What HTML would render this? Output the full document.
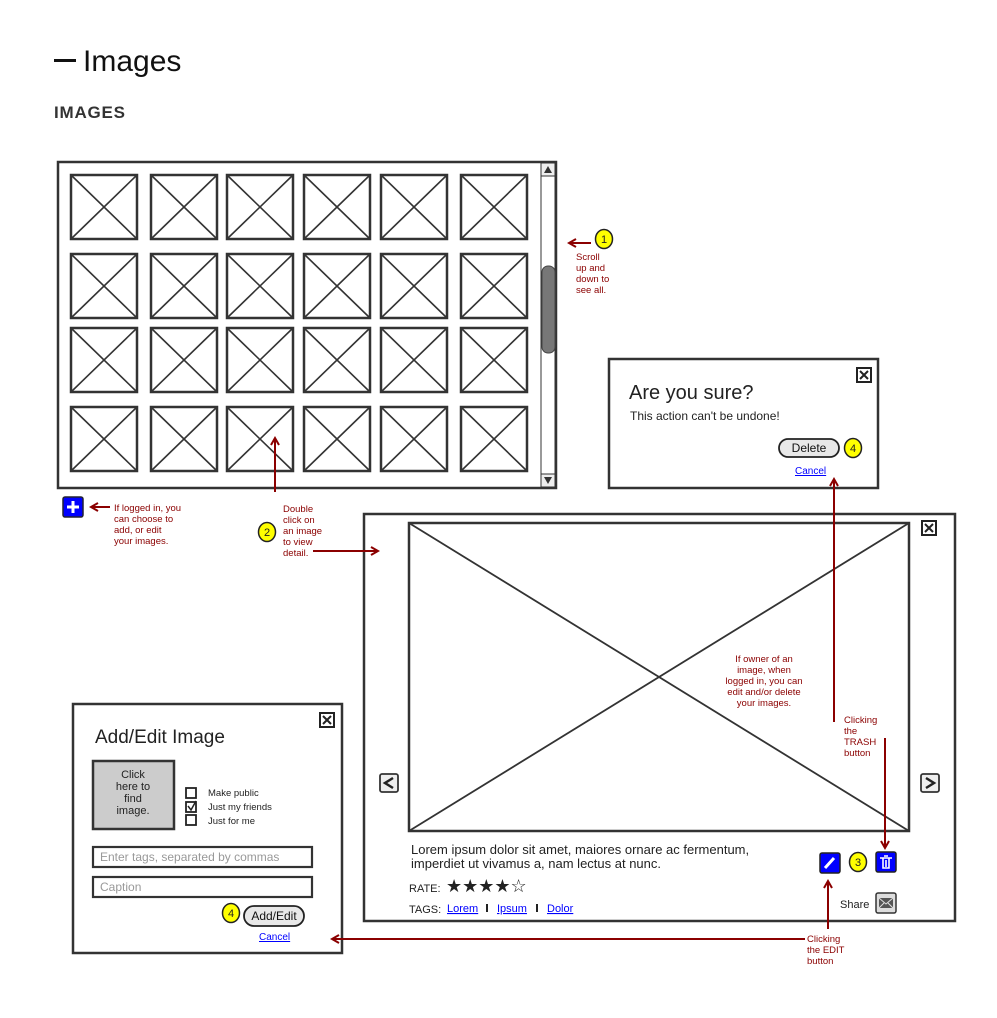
<!DOCTYPE html>
<html><head><meta charset="utf-8"><style>
body{margin:0;background:#fff;}
svg{display:block;font-family:"Liberation Sans",Arial,sans-serif;}
.r{fill:#8b0000;font-size:9.5px;}
</style></head><body>
<svg width="997" height="1018" viewBox="0 0 997 1018" xmlns="http://www.w3.org/2000/svg">
<defs>
<marker id="ah" markerWidth="10" markerHeight="10" refX="8" refY="5" orient="auto" markerUnits="userSpaceOnUse">
<path d="M1,1 L8,5 L1,9" fill="none" stroke="#8b0000" stroke-width="2"/>
</marker>
<g id="ph"><rect x="0" y="0" width="66" height="64" fill="#fff" stroke="#333" stroke-width="2.5"/><path d="M0,0 L66,64 M66,0 L0,64" stroke="#333" stroke-width="1.6"/></g>
</defs>
<rect x="54" y="59" width="22" height="3" fill="#111"/>
<text x="83" y="71" font-size="30" fill="#111">Images</text>
<text x="54" y="118" font-size="17" font-weight="bold" fill="#333" textLength="71">IMAGES</text>

<!-- grid -->
<rect x="58" y="162" width="498" height="326" fill="#fff" stroke="#333" stroke-width="2.5"/>
<rect x="541" y="163" width="14" height="324" fill="#fff" stroke="#333" stroke-width="1"/>
<rect x="541" y="163" width="14" height="13" fill="#eee" stroke="#333"/>
<path d="M548,166 L552,173 L544,173Z" fill="#333"/>
<rect x="541" y="474" width="14" height="13" fill="#eee" stroke="#333"/>
<path d="M544,477 L552,477 L548,484Z" fill="#333"/>
<rect x="542" y="266" width="13" height="87" rx="6" fill="#777" stroke="#444"/>
<g>
<use href="#ph" x="71" y="175"/><use href="#ph" x="151" y="175"/><use href="#ph" x="227" y="175"/><use href="#ph" x="304" y="175"/><use href="#ph" x="381" y="175"/><use href="#ph" x="461" y="175"/>
<use href="#ph" x="71" y="254"/><use href="#ph" x="151" y="254"/><use href="#ph" x="227" y="254"/><use href="#ph" x="304" y="254"/><use href="#ph" x="381" y="254"/><use href="#ph" x="461" y="254"/>
<use href="#ph" x="71" y="328"/><use href="#ph" x="151" y="328"/><use href="#ph" x="227" y="328"/><use href="#ph" x="304" y="328"/><use href="#ph" x="381" y="328"/><use href="#ph" x="461" y="328"/>
<use href="#ph" x="71" y="407"/><use href="#ph" x="151" y="407"/><use href="#ph" x="227" y="407"/><use href="#ph" x="304" y="407"/><use href="#ph" x="381" y="407"/><use href="#ph" x="461" y="407"/>
</g>

<!-- note 1 -->
<line x1="591" y1="243" x2="569" y2="243" stroke="#8b0000" stroke-width="2" marker-end="url(#ah)"/>
<ellipse cx="604" cy="239" rx="8.5" ry="9.5" fill="#ff0" stroke="#222" stroke-width="1.5"/>
<text x="604" y="243" font-size="11" text-anchor="middle" fill="#222">1</text>
<text class="r" x="576" y="260">Scroll</text><text class="r" x="576" y="271">up and</text><text class="r" x="576" y="282">down to</text><text class="r" x="576" y="293">see all.</text>

<!-- plus -->
<rect x="63" y="497" width="20" height="20" rx="2" fill="#00f" stroke="#223" stroke-width="1.5"/>
<path d="M73,501 V513 M67,507 H79" stroke="#fff" stroke-width="3"/>
<line x1="110" y1="507" x2="91" y2="507" stroke="#8b0000" stroke-width="2" marker-end="url(#ah)"/>
<text class="r" x="114" y="511">If logged in, you</text><text class="r" x="114" y="522">can choose to</text><text class="r" x="114" y="533">add, or edit</text><text class="r" x="114" y="544">your images.</text>

<!-- note 2 -->
<ellipse cx="267" cy="532" rx="8.5" ry="9.5" fill="#ff0" stroke="#222" stroke-width="1.5"/>
<text x="267" y="536" font-size="11" text-anchor="middle" fill="#222">2</text>
<text class="r" x="283" y="512">Double</text><text class="r" x="283" y="523">click on</text><text class="r" x="283" y="534">an image</text><text class="r" x="283" y="545">to view</text><text class="r" x="283" y="556">detail.</text>

<!-- detail -->
<rect x="364" y="514" width="591" height="407" fill="#fff" stroke="#333" stroke-width="2.5"/>
<rect x="409" y="523" width="500" height="308" fill="#fff" stroke="#333" stroke-width="2.5"/>
<path d="M409,523 L909,831 M909,523 L409,831" stroke="#333" stroke-width="1.8"/>
<rect x="922" y="521" width="14" height="14" fill="#fff" stroke="#222" stroke-width="2"/>
<path d="M925,524 L933,532 M933,524 L925,532" stroke="#222" stroke-width="2"/>
<rect x="380" y="774" width="18" height="18" rx="2" fill="#eee" stroke="#333" stroke-width="1.8"/>
<path d="M393,778 L385,783 L393,788" fill="none" stroke="#222" stroke-width="2.5"/>
<rect x="921" y="774" width="18" height="18" rx="2" fill="#eee" stroke="#333" stroke-width="1.8"/>
<path d="M926,778 L934,783 L926,788" fill="none" stroke="#222" stroke-width="2.5"/>
<g class="r" text-anchor="middle"><text x="764" y="662">If owner of an</text><text x="764" y="673">image, when</text><text x="764" y="684">logged in, you can</text><text x="764" y="695">edit and/or delete</text><text x="764" y="706">your images.</text></g>
<text class="r" x="844" y="723">Clicking</text><text class="r" x="844" y="734">the</text><text class="r" x="844" y="745">TRASH</text><text class="r" x="844" y="756">button</text>
<rect x="820" y="853" width="20" height="20" rx="2" fill="#00f" stroke="#222" stroke-width="1.5"/>
<path d="M825,868 L834,858" stroke="#fff" stroke-width="3"/>
<ellipse cx="858" cy="862" rx="8.5" ry="9.5" fill="#ff0" stroke="#222" stroke-width="1.5"/>
<text x="858" y="866" font-size="11" text-anchor="middle" fill="#222">3</text>
<rect x="876" y="852" width="20" height="20" rx="2" fill="#00f" stroke="#222" stroke-width="1.5"/>
<path d="M880,858 H892 M883,858 V868 H889 V858 M886,860 V867 M884,856 H888" stroke="#fff" stroke-width="1.6" fill="none"/>
<text x="411" y="854" font-size="13" fill="#222">Lorem ipsum dolor sit amet, maiores ornare ac fermentum,</text>
<text x="411" y="868" font-size="13" fill="#222">imperdiet ut vivamus a, nam lectus at nunc.</text>
<text x="409" y="892" font-size="11" fill="#222">RATE:</text>
<text x="446" y="892" font-size="18" fill="#222">★★★★☆</text>
<text x="409" y="913" font-size="11" fill="#222">TAGS:</text>
<g font-size="11" fill="#00f" text-decoration="underline"><text x="447" y="912">Lorem</text><text x="497" y="912">Ipsum</text><text x="547" y="912">Dolor</text></g>
<path d="M487,904 V912 M537,904 V912" stroke="#222" stroke-width="2"/>
<text x="840" y="908" font-size="11" fill="#222">Share</text>
<rect x="876" y="893" width="20" height="20" rx="2" fill="#ddd" stroke="#333" stroke-width="1.5"/>
<rect x="879" y="898" width="14" height="10" fill="#555"/><path d="M879,898 L886,904 L893,898 M879,908 L884,903 M893,908 L888,903" stroke="#ddd" stroke-width="1" fill="none"/>
<text class="r" x="807" y="942">Clicking</text><text class="r" x="807" y="953">the EDIT</text><text class="r" x="807" y="964">button</text>

<!-- confirm -->
<rect x="609" y="359" width="269" height="129" fill="#fff" stroke="#333" stroke-width="2.5"/>
<rect x="857" y="368" width="14" height="14" fill="#fff" stroke="#222" stroke-width="2"/>
<path d="M860,371 L868,379 M868,371 L860,379" stroke="#222" stroke-width="2"/>
<text x="629" y="399" font-size="20" fill="#222">Are you sure?</text>
<text x="630" y="420" font-size="12" fill="#222">This action can't be undone!</text>
<rect x="779" y="439" width="60" height="18" rx="9" fill="#e8e8e8" stroke="#222" stroke-width="1.8"/>
<text x="809" y="452" font-size="12" text-anchor="middle" fill="#111">Delete</text>
<ellipse cx="853" cy="448" rx="8.5" ry="9.5" fill="#ff0" stroke="#222" stroke-width="1.5"/>
<text x="853" y="452" font-size="11" text-anchor="middle" fill="#222">4</text>
<text x="795" y="474" font-size="10" fill="#00f" text-decoration="underline">Cancel</text>

<!-- add/edit -->
<rect x="73" y="704" width="269" height="249" fill="#fff" stroke="#333" stroke-width="2.5"/>
<rect x="320" y="713" width="14" height="14" fill="#fff" stroke="#222" stroke-width="2"/>
<path d="M323,716 L331,724 M331,716 L323,724" stroke="#222" stroke-width="2"/>
<text x="95" y="743" font-size="19" fill="#222">Add/Edit Image</text>
<rect x="93" y="761" width="81" height="68" fill="#ccc" stroke="#333" stroke-width="2.5"/>
<g font-size="11" fill="#222" text-anchor="middle"><text x="133" y="778">Click</text><text x="133" y="790">here to</text><text x="133" y="802">find</text><text x="133" y="814">image.</text></g>
<g fill="#fff" stroke="#222" stroke-width="1.8"><rect x="186" y="788" width="10" height="10"/><rect x="186" y="802" width="10" height="10"/><rect x="186" y="815" width="10" height="10"/></g>
<path d="M188,806 L191,810 L196,801" fill="none" stroke="#222" stroke-width="1.5"/>
<g font-size="9.5" fill="#222"><text x="208" y="796">Make public</text><text x="208" y="810">Just my friends</text><text x="208" y="824">Just for me</text></g>
<rect x="93" y="847" width="219" height="20" fill="#fff" stroke="#333" stroke-width="2.2"/>
<text x="100" y="861" font-size="12" fill="#999">Enter tags, separated by commas</text>
<rect x="93" y="877" width="219" height="20" fill="#fff" stroke="#333" stroke-width="2.2"/>
<text x="100" y="891" font-size="12" fill="#999">Caption</text>
<ellipse cx="231" cy="913" rx="8.5" ry="9.5" fill="#ff0" stroke="#222" stroke-width="1.5"/>
<text x="231" y="917" font-size="11" text-anchor="middle" fill="#222">4</text>
<rect x="244" y="906" width="60" height="20" rx="10" fill="#e8e8e8" stroke="#222" stroke-width="1.8"/>
<text x="274" y="920" font-size="12" text-anchor="middle" fill="#111">Add/Edit</text>
<text x="259" y="940" font-size="10" fill="#00f" text-decoration="underline">Cancel</text>

<!-- connectors on top -->
<line x1="275" y1="492" x2="275" y2="438" stroke="#8b0000" stroke-width="2" marker-end="url(#ah)"/>
<line x1="313" y1="551" x2="378" y2="551" stroke="#8b0000" stroke-width="2" marker-end="url(#ah)"/>
<line x1="834" y1="722" x2="834" y2="479" stroke="#8b0000" stroke-width="2" marker-end="url(#ah)"/>
<line x1="885" y1="738" x2="885" y2="848" stroke="#8b0000" stroke-width="2" marker-end="url(#ah)"/>
<line x1="828" y1="929" x2="828" y2="881" stroke="#8b0000" stroke-width="2" marker-end="url(#ah)"/>
<line x1="805" y1="939" x2="332" y2="939" stroke="#8b0000" stroke-width="2" marker-end="url(#ah)"/>
</svg>
</body></html>
